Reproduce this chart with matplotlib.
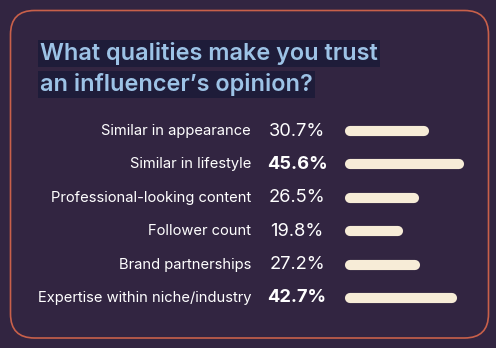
import matplotlib
matplotlib.use("Agg")
import matplotlib.pyplot as plt
from matplotlib.patches import FancyBboxPatch

# Survey results
categories = [
    "Similar in appearance",
    "Similar in lifestyle",
    "Professional-looking content",
    "Follower count",
    "Brand partnerships",
    "Expertise within niche/industry",
]
values = [30.7, 45.6, 26.5, 19.8, 27.2, 42.7]
highlighted = [False, True, False, False, False, True]
title_lines = ["What qualities make you trust", "an influencer\u2019s opinion?"]

BG = "#322541"
BORDER = "#c8604a"
TITLE_COLOR = "#9dc3e6"
TITLE_BG = "#1e1c39"
BAR_COLOR = "#f7ecd7"
TEXT = "#ffffff"

W, H = 496, 348
fig = plt.figure(figsize=(W / 100, H / 100), dpi=100, facecolor=BG)
ax = fig.add_axes([0, 0, 1, 1])
ax.set_xlim(0, W)
ax.set_ylim(H, 0)
ax.axis("off")
ax.set_facecolor(BG)

# Rounded card outline
card = FancyBboxPatch((10.5, 10.5), 478, 327.5,
                      boxstyle="round,pad=0,rounding_size=24",
                      facecolor="none", edgecolor=BORDER, linewidth=1.2)
ax.add_patch(card)

# Title with highlighted background per line
title_y = [53.5, 84.5]
for line, y in zip(title_lines, title_y):
    ax.text(40, y, line, fontsize=16.9, fontweight="semibold", family="Inter",
            color=TITLE_COLOR, ha="left", va="center",
            bbox=dict(boxstyle="square,pad=0.1", facecolor=TITLE_BG,
                      edgecolor="none"))

# Rows: label, value, rounded bar
row_y0 = 131
row_step = 33.4
bar_x0 = 350
scale = 2.4
for i, (cat, val, bold) in enumerate(zip(categories, values, highlighted)):
    y = row_y0 + i * row_step
    ax.text(251, y, cat, fontsize=10.6, family="Inter", color=TEXT,
            ha="right", va="center")
    ax.text(297, y, f"{val}%", fontsize=13.2, family="Inter", color=TEXT,
            ha="center", va="center",
            fontweight="bold" if bold else "normal")
    ax.plot([bar_x0, bar_x0 + scale * val], [y, y], color=BAR_COLOR,
            linewidth=7.3, solid_capstyle="round")

fig.savefig("out.png", dpi=100, facecolor=BG)
